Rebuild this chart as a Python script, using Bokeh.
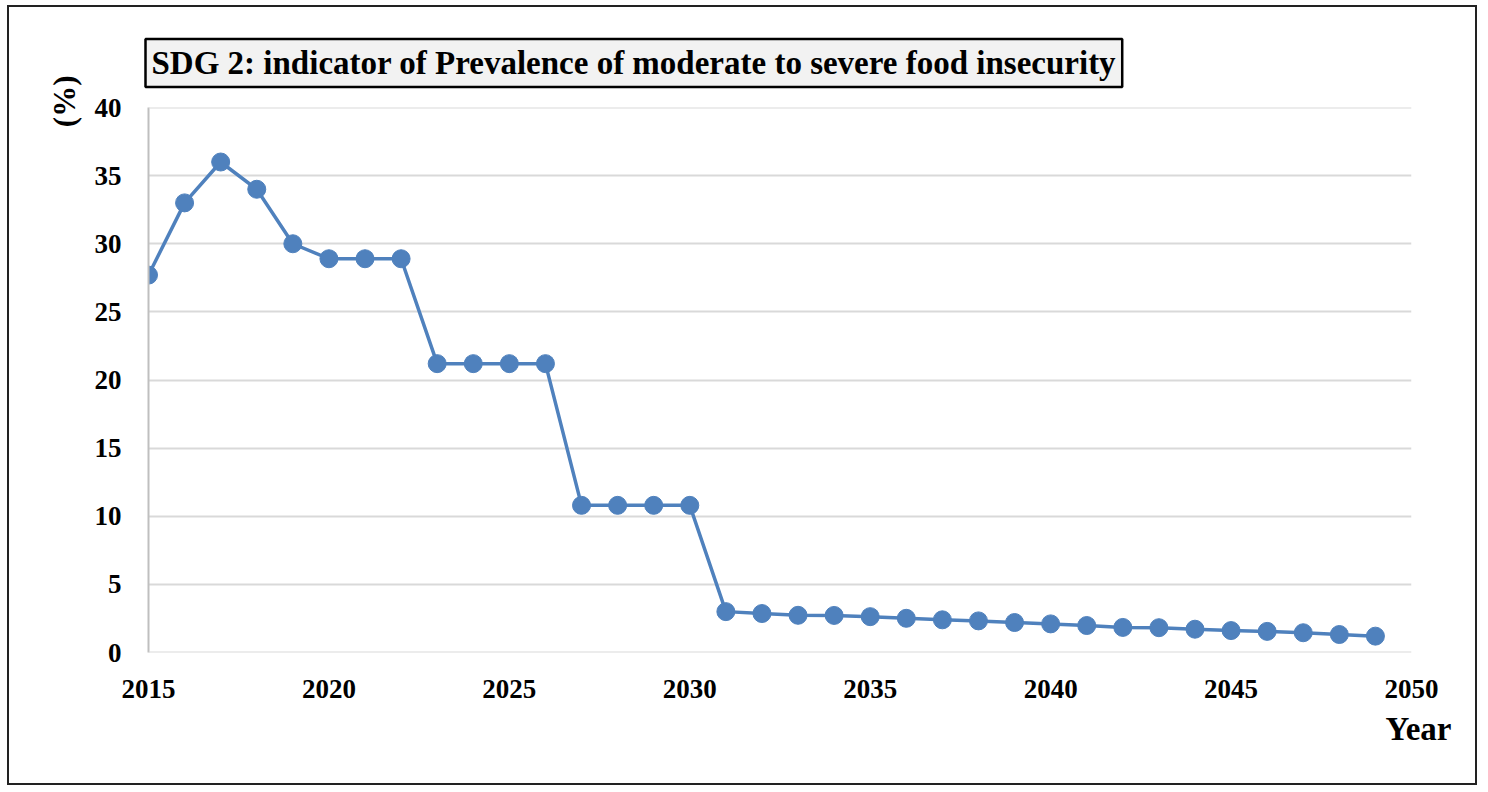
import numpy as np
from bokeh.plotting import figure
from bokeh.models import ColumnDataSource, Title, FixedTicker, Range1d, Span
from bokeh.embed import file_html
from bokeh.resources import INLINE

years = list(range(2015, 2050))
values = [27.7, 33.0, 36.0, 34.0, 30.0, 28.9, 28.9, 28.9,
          21.2, 21.2, 21.2, 21.2,
          10.8, 10.8, 10.8, 10.8,
          3.0, 2.86, 2.73, 2.72, 2.63, 2.51, 2.4, 2.32, 2.2, 2.1,
          1.98, 1.84, 1.82, 1.71, 1.61, 1.55, 1.45, 1.32, 1.2]
x_ticks = [2015, 2020, 2025, 2030, 2035, 2040, 2045, 2050]
y_ticks = [0, 5, 10, 15, 20, 25, 30, 35, 40]
title_text = "SDG 2: indicator of Prevalence of moderate to severe food insecurity"
y_label = "(%)"
x_label = "Year"

FONT = "Liberation Serif"
W, H = 1470, 780

src = ColumnDataSource(dict(year=years, val=values))

main_title = Title(text=title_text, align="left", text_font=FONT,
                   text_font_style="bold", text_font_size="33px",
                   text_color="black", background_fill_color="#f2f2f2",
                   border_line_color="black", border_line_width=2.5,
                   padding=6, standoff=41, offset=-3)

p = figure(width=W, height=H, output_backend="svg", toolbar_location=None,
           x_range=Range1d(x_ticks[0], x_ticks[-1]),
           y_range=Range1d(y_ticks[0], y_ticks[-1]),
           title=main_title,
           min_border_left=139, min_border_right=68, min_border_top=100,
           min_border_bottom=135)
p.styles = {"border": "2px solid #222222", "margin-left": "7px",
            "margin-top": "5px"}
p.outline_line_color = None
p.background_fill_color = "white"
p.border_fill_color = "white"

p.xaxis.ticker = FixedTicker(ticks=x_ticks)
p.yaxis.ticker = FixedTicker(ticks=y_ticks)
for ax in (p.xaxis[0], p.yaxis[0]):
    ax.major_label_text_font = FONT
    ax.major_label_text_font_style = "bold"
    ax.major_label_text_font_size = "27px"
    ax.major_label_text_color = "black"
    ax.major_tick_line_color = None
    ax.minor_tick_line_color = None
p.xaxis.axis_line_color = None
p.yaxis.axis_line_color = "#bfbfbf"
p.yaxis.axis_line_width = 2
p.xaxis.major_label_standoff = 21
p.yaxis.major_label_standoff = 21

p.xgrid.grid_line_color = None
p.ygrid.grid_line_color = "#d9d9d9"
p.ygrid.grid_line_width = 2
for yv in (y_ticks[0], y_ticks[-1]):
    p.add_layout(Span(location=yv, dimension="width", line_color="#d9d9d9",
                      line_width=2))

p.line("year", "val", source=src, line_color="#4f81bd", line_width=3.5)
p.scatter("year", "val", source=src, size=18, fill_color="#4f81bd",
          line_color="#4f81bd")

p.add_layout(Title(text=y_label, align="right", text_font=FONT,
                   text_font_style="bold", text_font_size="31px",
                   text_color="black", standoff=19, offset=-32), "left")
p.add_layout(Title(text=x_label, align="right", text_font=FONT,
                   text_font_style="bold", text_font_size="33px",
                   text_color="black", standoff=16, offset=-40), "below")

open("out.html", "w").write(file_html(p, INLINE))
